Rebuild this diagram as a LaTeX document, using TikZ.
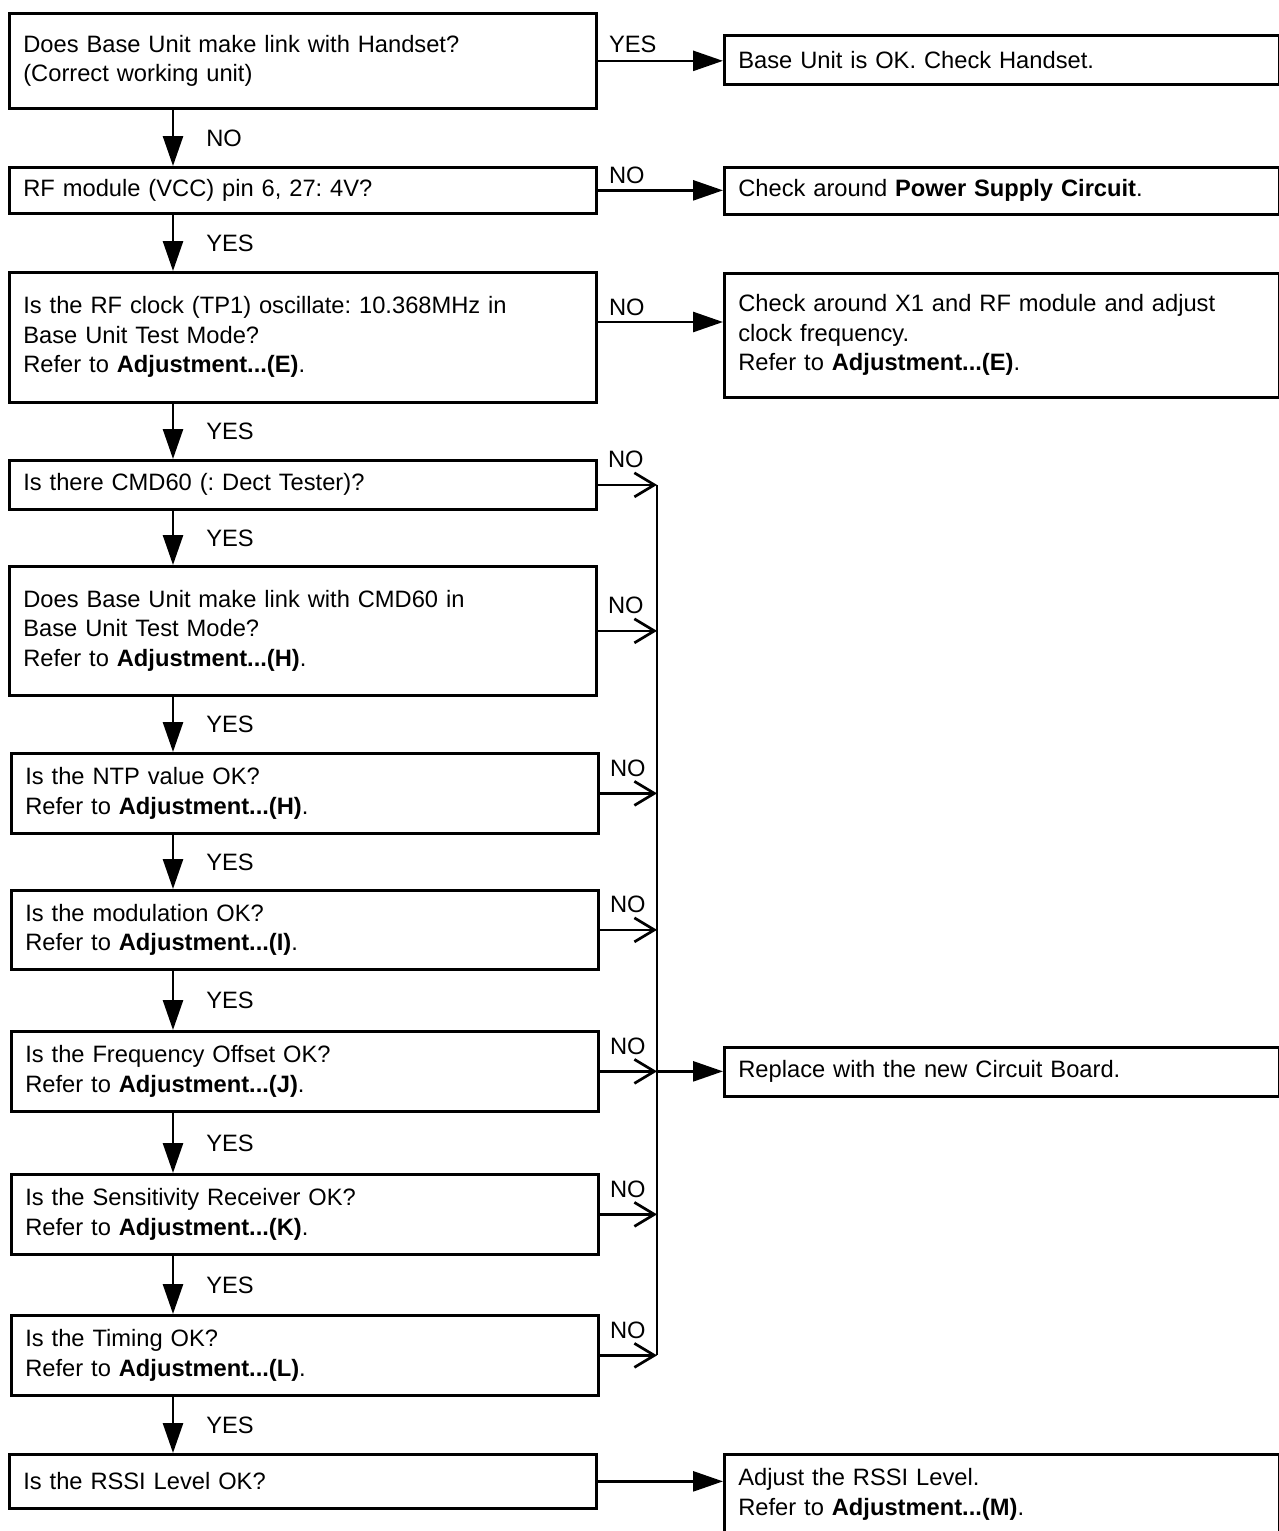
\documentclass[tikz,border=0pt]{standalone}
\usepackage{fontspec}
\setmainfont{Liberation Sans}
\usetikzlibrary{arrows.meta,calc}
\frenchspacing
\begin{document}
\begin{tikzpicture}[x=1pt,y=-1pt,
  box/.style={draw, line width=2.7pt, rectangle, anchor=north west, inner xsep=14pt, inner ysep=0pt, align=left, font=\fontsize{23.7}{29.5}\selectfont},
  lbox/.style={box, text width=559pt},
  rbox/.style={box, text width=527pt},
  flow/.style={line width=2.7pt, -{Triangle[length=30pt,width=20pt]}},
  busarr/.style={line width=2.7pt, -{Straight Barb[length=20pt,width=24pt]}},
  lbl/.style={font=\fontsize{23.7}{29.5}\selectfont, inner sep=0pt},
]
\fill[white] (0,0) rectangle (1279,1531);
\useasboundingbox (0,0) rectangle (1279,1531);

% left column
\node[lbox, minimum height=95pt] (q1) at (8,12) {Does Base Unit make link with Handset?\\(Correct working unit)};
\node[lbox, minimum height=46pt] (q2) at (8,166) {RF module (VCC) pin 6, 27: 4V?};
\node[lbox, minimum height=130pt] (q3) at (8,271) {Is the RF clock (TP1) oscillate: 10.368MHz in\\Base Unit Test Mode?\\Refer to \textbf{Adjustment...(E)}.};
\node[lbox, minimum height=49pt] (q4) at (8,459) {Is there CMD60 (: Dect Tester)?};
\node[lbox, minimum height=129pt] (q5) at (8,565) {Does Base Unit make link with CMD60 in\\Base Unit Test Mode?\\Refer to \textbf{Adjustment...(H)}.};
\node[lbox, minimum height=80pt] (q6) at (10,752) {Is the NTP value OK?\\Refer to \textbf{Adjustment...(H)}.};
\node[lbox, minimum height=79pt] (q7) at (10,889) {Is the modulation OK?\\Refer to \textbf{Adjustment...(I)}.};
\node[lbox, minimum height=80pt] (q8) at (10,1030) {Is the Frequency Offset OK?\\Refer to \textbf{Adjustment...(J)}.};
\node[lbox, minimum height=80pt] (q9) at (10,1173) {Is the Sensitivity Receiver OK?\\Refer to \textbf{Adjustment...(K)}.};
\node[lbox, minimum height=80pt] (q10) at (10,1314) {Is the Timing OK?\\Refer to \textbf{Adjustment...(L)}.};
\node[lbox, minimum height=54pt] (q11) at (8,1453) {Is the RSSI Level OK?};

% right column
\node[rbox, minimum height=49pt] (r1) at (723,34) {Base Unit is OK. Check Handset.};
\node[rbox, minimum height=47pt] (r2) at (723,166) {Check around \textbf{Power Supply Circuit}.};
\node[rbox, minimum height=124pt] (r3) at (723,272) {Check around X1 and RF module and adjust\\clock frequency.\\Refer to \textbf{Adjustment...(E)}.};
\node[rbox, minimum height=49pt] (r4) at (723,1046) {Replace with the new Circuit Board.};
\node[rbox, minimum height=80pt] (r5) at (723,1453) {Adjust the RSSI Level.\\Refer to \textbf{Adjustment...(M)}.};

\coordinate (ax) at (173,0);
\coordinate (bus) at (657,0);
\coordinate (y3) at (0,322);

% vertical flow
\draw[flow] (q1.south -| ax) -- (q2.north -| ax) node[lbl, midway, anchor=west, xshift=32pt] {NO};
\draw[flow] (q2.south -| ax) -- (q3.north -| ax) node[lbl, midway, anchor=west, xshift=32pt] {YES};
\draw[flow] (q3.south -| ax) -- (q4.north -| ax) node[lbl, midway, anchor=west, xshift=32pt] {YES};
\draw[flow] (q4.south -| ax) -- (q5.north -| ax) node[lbl, midway, anchor=west, xshift=32pt] {YES};
\draw[flow] (q5.south -| ax) -- (q6.north -| ax) node[lbl, midway, anchor=west, xshift=32pt] {YES};
\draw[flow] (q6.south -| ax) -- (q7.north -| ax) node[lbl, midway, anchor=west, xshift=32pt] {YES};
\draw[flow] (q7.south -| ax) -- (q8.north -| ax) node[lbl, midway, anchor=west, xshift=32pt] {YES};
\draw[flow] (q8.south -| ax) -- (q9.north -| ax) node[lbl, midway, anchor=west, xshift=32pt] {YES};
\draw[flow] (q9.south -| ax) -- (q10.north -| ax) node[lbl, midway, anchor=west, xshift=32pt] {YES};
\draw[flow] (q10.south -| ax) -- (q11.north -| ax) node[lbl, midway, anchor=west, xshift=32pt] {YES};

% horizontal to right column
\draw[flow] (q1.east) -- (q1.east -| r1.west) node[lbl, pos=0, anchor=base west, xshift=10pt, yshift=8pt] {YES};
\draw[flow] (q2.east) -- (q2.east -| r2.west) node[lbl, pos=0, anchor=base west, xshift=10pt, yshift=7pt] {NO};
\draw[flow] (q3.east |- y3) -- (r3.west |- y3) node[lbl, pos=0, anchor=base west, xshift=10pt, yshift=7pt] {NO};
\draw[flow] (q11.east) -- (q11.east -| r5.west);

% bus
\foreach \q in {q4,q5,q6,q7,q8,q9,q10}{
  \draw[busarr] (\q.east) -- (\q.east -| bus) node[lbl, pos=0, anchor=base west, xshift=9pt, yshift=17pt] {NO};
}
\draw[line width=2.7pt] (q4.east -| bus) -- (q10.east -| bus);
\draw[flow] (q8.east -| bus) -- (q8.east -| r4.west);
\end{tikzpicture}
\end{document}
